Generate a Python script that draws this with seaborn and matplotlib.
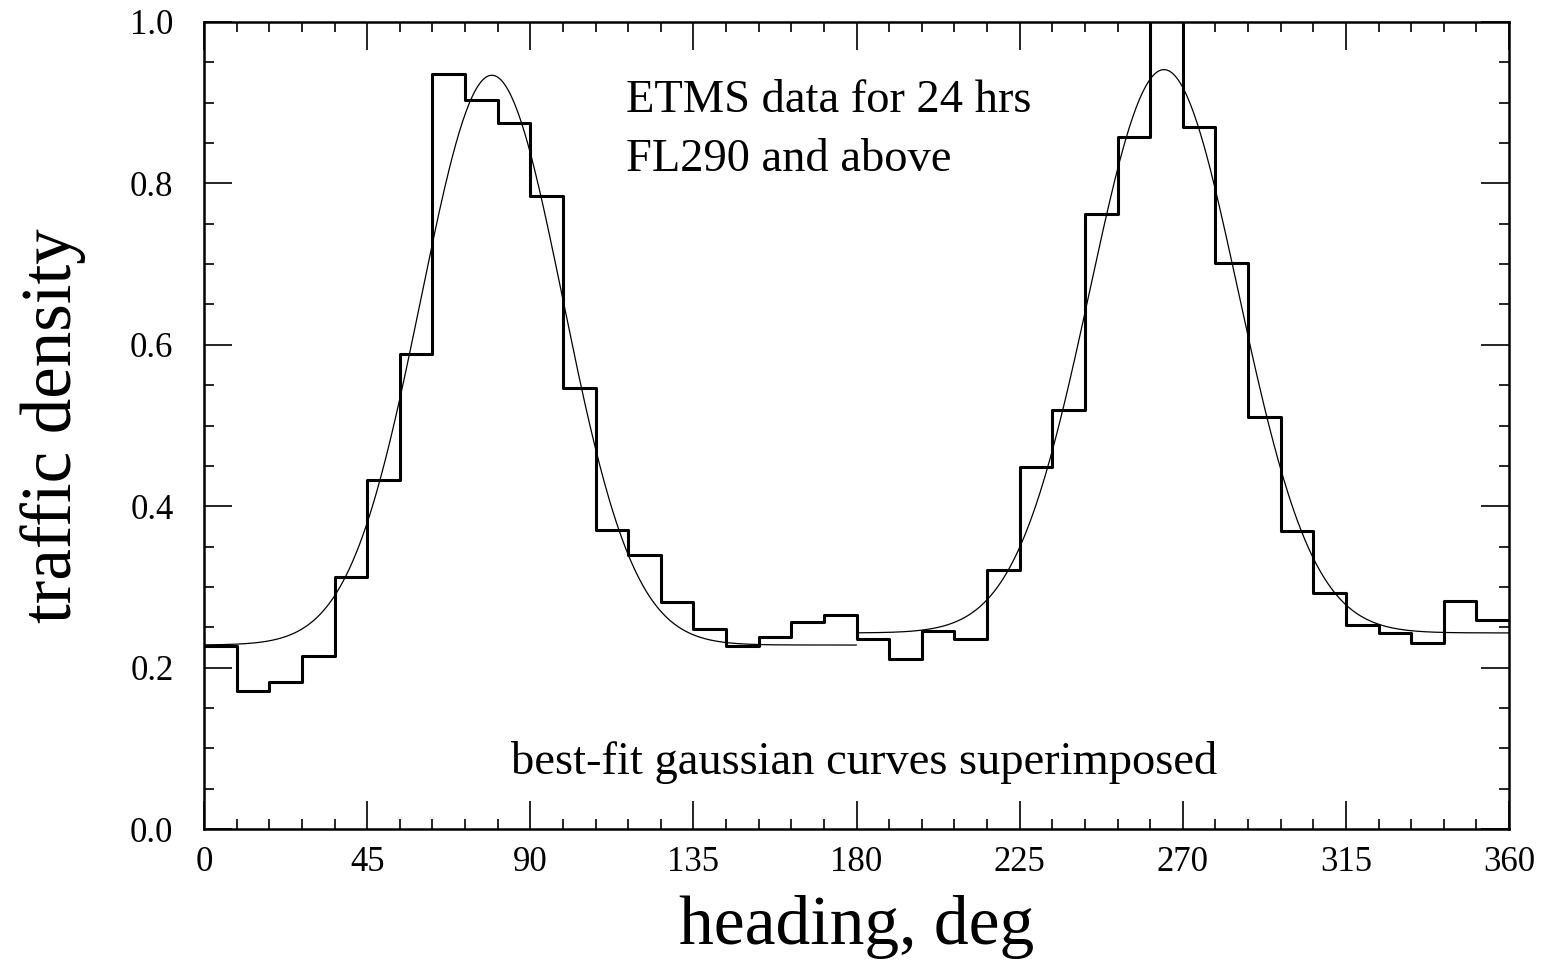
import numpy as np
import pandas as pd
import seaborn as sns
import matplotlib
matplotlib.use("Agg")
import matplotlib.pyplot as plt
from matplotlib.ticker import MultipleLocator, FormatStrFormatter

# ---- data ----
bin_edges = list(range(0, 361, 9))  # 40 bins of 9 degrees
density = [0.227, 0.171, 0.182, 0.214, 0.312, 0.432, 0.589, 0.936, 0.903, 0.875,
           0.784, 0.547, 0.371, 0.339, 0.281, 0.248, 0.227, 0.238, 0.256, 0.265,
           0.235, 0.211, 0.245, 0.235, 0.321, 0.449, 0.519, 0.762, 0.858, 1.050,
           0.870, 0.701, 0.510, 0.369, 0.292, 0.253, 0.243, 0.231, 0.283, 0.259]

# best-fit gaussian parameters: [start, end, baseline, amplitude, center, sigma]
fit_east = [0, 180, 0.228, 0.706, 79.4, 19.6]
fit_west = [180, 360, 0.243, 0.698, 264.8, 20.5]

x_ticks = [0, 45, 90, 135, 180, 225, 270, 315, 360]
y_ticks = [0.0, 0.2, 0.4, 0.6, 0.8, 1.0]

sns.set_theme(style="white")
plt.rcParams['font.family'] = ['Liberation Serif', 'DejaVu Serif']
plt.rcParams['text.color'] = 'black'
plt.rcParams['axes.labelcolor'] = 'black'
plt.rcParams['xtick.color'] = 'black'
plt.rcParams['ytick.color'] = 'black'

fig = plt.figure(figsize=(15.49, 9.64), dpi=100)
ax = fig.add_axes([0.1317, 0.14, 0.8425, 0.8372])

centers = [(bin_edges[i] + bin_edges[i + 1]) / 2 for i in range(len(density))]
df = pd.DataFrame({"heading": centers, "density": density})
sns.histplot(data=df, x="heading", weights="density", bins=bin_edges,
             element="step", fill=False, color="black", linewidth=2.2, ax=ax)

for p in (fit_east, fit_west):
    xs = np.linspace(p[0], p[1], 400)
    ys = p[2] + p[3] * np.exp(-0.5 * ((xs - p[4]) / p[5]) ** 2)
    sns.lineplot(x=xs, y=ys, color="black", linewidth=0.9, ax=ax)

ax.set_xlim(0, 360)
ax.set_ylim(0, 1.0)
ax.set_xticks(x_ticks)
ax.set_yticks(y_ticks)
ax.xaxis.set_minor_locator(MultipleLocator(9))
ax.yaxis.set_minor_locator(MultipleLocator(0.05))
ax.yaxis.set_major_formatter(FormatStrFormatter('%.1f'))
ax.tick_params(which='both', direction='in', top=True, right=True, bottom=True, left=True,
               color='black', labelcolor='black', width=1.2)
ax.tick_params(which='major', length=20, labelsize=25)
ax.tick_params(axis='x', which='major', pad=12)
ax.tick_params(axis='y', which='major', pad=22)
ax.tick_params(which='minor', length=7)
for s in ax.spines.values():
    s.set_color('black')
    s.set_linewidth(1.8)

ax.set_xlabel("heading, deg", fontsize=50, labelpad=12, color='black')
ax.set_ylabel("traffic density", fontsize=51, labelpad=32, color='black')

ax.text(0.323, 0.903, "ETMS data for 24 hrs", transform=ax.transAxes,
        fontsize=33.5, ha='left', va='center', color='black')
ax.text(0.323, 0.829, "FL290 and above", transform=ax.transAxes,
        fontsize=33.5, ha='left', va='center', color='black')
ax.text(0.506, 0.082, "best-fit gaussian curves superimposed", transform=ax.transAxes,
        fontsize=33.5, ha='center', va='center', color='black')

fig.savefig("out.png", dpi=100)
